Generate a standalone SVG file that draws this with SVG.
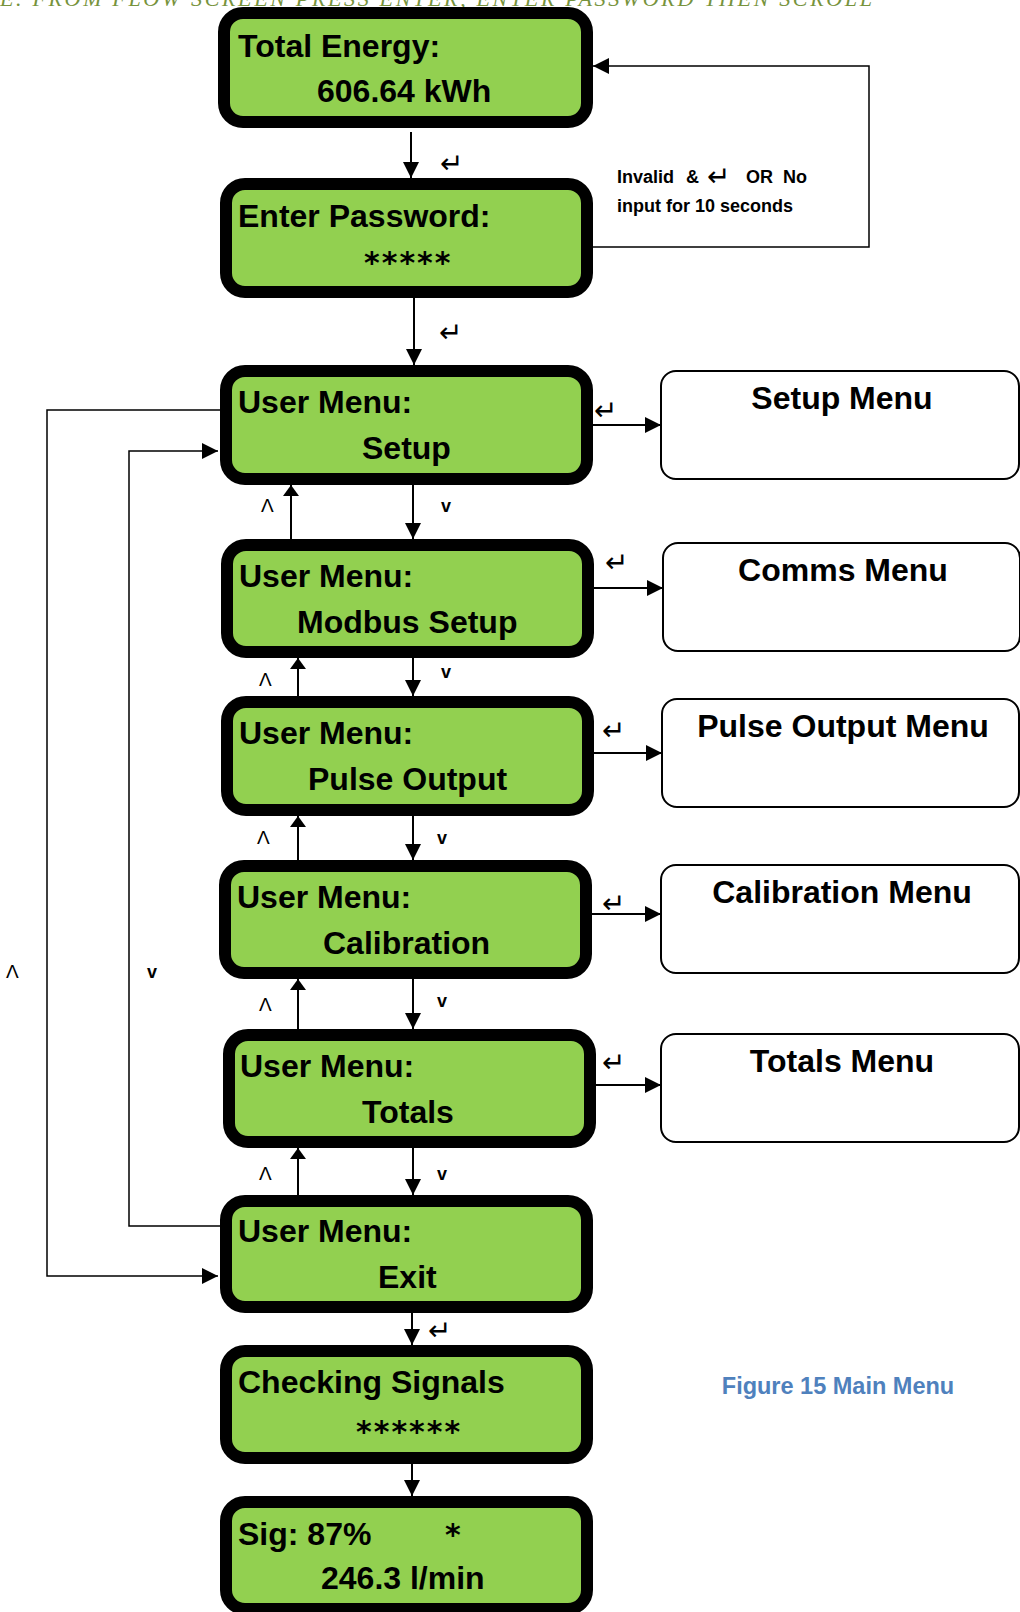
<svg xmlns="http://www.w3.org/2000/svg" width="1020" height="1612" viewBox="0 0 1020 1612">
<style>
.scr{fill:#92D050;stroke:#000;stroke-width:12}
.sub{fill:#fff;stroke:#000;stroke-width:2}
.t{font-family:"Liberation Sans",Arial,sans-serif;font-weight:bold;font-size:32px;fill:#000}
.st{font-family:"DejaVu Sans",sans-serif;font-weight:bold;font-size:30px;fill:#000;letter-spacing:2px}
.mt{font-family:"Liberation Sans",Arial,sans-serif;font-weight:bold;font-size:32px;fill:#000;text-anchor:middle}
.ent{font-family:"DejaVu Sans",sans-serif;font-size:28px;fill:#000}
.up{font-family:"Liberation Sans",Arial,sans-serif;font-size:19px;fill:#000}
.dn{font-family:"Liberation Sans",Arial,sans-serif;font-weight:bold;font-size:18px;fill:#000}
.note{font-family:"Liberation Sans",Arial,sans-serif;font-weight:bold;font-size:18px;fill:#000}
.c{fill:none;stroke:#000;stroke-width:2}
.l{fill:none;stroke:#000;stroke-width:1.5}
</style>
<defs>
<marker id="a" markerUnits="userSpaceOnUse" markerWidth="16" markerHeight="16" refX="16" refY="8" orient="auto"><path d="M0,0 L16,8 L0,16 z" fill="#000"/></marker>
<marker id="u" markerUnits="userSpaceOnUse" markerWidth="11" markerHeight="16" refX="11" refY="8" orient="auto"><path d="M0,0 L11,8 L0,16 z" fill="#000"/></marker>
</defs>

<text x="0" y="6" font-family="Liberation Serif,serif" font-style="italic" font-size="22" fill="#77933C" textLength="872" lengthAdjust="spacing">E.  FROM  FLOW  SCREEN  PRESS  ENTER,  ENTER  PASSWORD  THEN  SCROLL</text>

<g id="connectors">
<line class="c" x1="411" y1="132" x2="411" y2="178" marker-end="url(#a)"/>
<line class="c" x1="414" y1="298" x2="414" y2="365" marker-end="url(#a)"/>
<polyline class="l" points="593,247 869,247 869,66 593,66" marker-end="url(#a)"/>
<line class="c" x1="413" y1="485" x2="413" y2="539" marker-end="url(#a)"/>
<line class="c" x1="291" y1="539" x2="291" y2="485" marker-end="url(#u)"/>
<line class="c" x1="413" y1="658" x2="413" y2="696" marker-end="url(#a)"/>
<line class="c" x1="298" y1="696" x2="298" y2="658" marker-end="url(#u)"/>
<line class="c" x1="413" y1="816" x2="413" y2="860" marker-end="url(#a)"/>
<line class="c" x1="298" y1="860" x2="298" y2="816" marker-end="url(#u)"/>
<line class="c" x1="413" y1="979" x2="413" y2="1029" marker-end="url(#a)"/>
<line class="c" x1="298" y1="1029" x2="298" y2="979" marker-end="url(#u)"/>
<line class="c" x1="413" y1="1148" x2="413" y2="1195" marker-end="url(#a)"/>
<line class="c" x1="298" y1="1195" x2="298" y2="1148" marker-end="url(#u)"/>
<line class="c" x1="412" y1="1313" x2="412" y2="1345" marker-end="url(#a)"/>
<line class="c" x1="412" y1="1464" x2="412" y2="1496" marker-end="url(#a)"/>
<line class="c" x1="593" y1="425" x2="661" y2="425" marker-end="url(#a)"/>
<line class="c" x1="594" y1="588" x2="663" y2="588" marker-end="url(#a)"/>
<line class="c" x1="594" y1="753" x2="662" y2="753" marker-end="url(#a)"/>
<line class="c" x1="592" y1="914" x2="661" y2="914" marker-end="url(#a)"/>
<line class="c" x1="596" y1="1085" x2="661" y2="1085" marker-end="url(#a)"/>
<polyline class="l" points="220,410 47,410 47,1276 218,1276" marker-end="url(#a)"/>
<polyline class="l" points="220,1226 129,1226 129,451 218,451" marker-end="url(#a)"/>
<text class="ent" x="440" y="173">↵</text>
<text class="ent" x="439" y="342">↵</text>
<text class="ent" x="594" y="420">↵</text>
<text class="ent" x="605" y="572">↵</text>
<text class="ent" x="602" y="740">↵</text>
<text class="ent" x="602" y="913">↵</text>
<text class="ent" x="602" y="1072">↵</text>
<text class="ent" x="428" y="1340">↵</text>
<text class="up" x="261" y="512">Λ</text>
<text class="dn" x="441" y="512">v</text>
<text class="up" x="259" y="686">Λ</text>
<text class="dn" x="441" y="678">v</text>
<text class="up" x="257" y="844">Λ</text>
<text class="dn" x="437" y="844">v</text>
<text class="up" x="259" y="1011">Λ</text>
<text class="dn" x="437" y="1007">v</text>
<text class="up" x="259" y="1180">Λ</text>
<text class="dn" x="437" y="1180">v</text>
<text class="up" x="6" y="978">Λ</text>
<text class="dn" x="147" y="978">v</text>
<text class="note" x="617" y="183">Invalid<tspan x="686">&amp;</tspan><tspan x="746">OR</tspan><tspan x="783">No</tspan></text>
<text class="ent" x="707" y="186">↵</text>
<text class="note" x="617" y="212">input for 10 seconds</text>
</g>

<g id="total-energy"><rect class="scr" x="224" y="13" width="363" height="109" rx="19"/><text class="t" x="238" y="57">Total Energy:</text><text class="t" x="317" y="102">606.64 kWh</text></g>
<g id="enter-password"><rect class="scr" x="226" y="184" width="361" height="108" rx="19"/><text class="t" x="238" y="227">Enter Password:</text><text class="st" x="364" y="273">*****</text></g>
<g id="um-setup"><rect class="scr" x="226" y="371" width="361" height="108" rx="19"/><text class="t" x="238" y="413">User Menu:</text><text class="t" x="362" y="459">Setup</text></g>
<g id="um-modbus"><rect class="scr" x="227" y="545" width="361" height="107" rx="19"/><text class="t" x="239" y="587">User Menu:</text><text class="t" x="297" y="633">Modbus Setup</text></g>
<g id="um-pulse"><rect class="scr" x="227" y="702" width="361" height="108" rx="19"/><text class="t" x="239" y="744">User Menu:</text><text class="t" x="308" y="790">Pulse Output</text></g>
<g id="um-calibration"><rect class="scr" x="225" y="866" width="361" height="107" rx="19"/><text class="t" x="237" y="908">User Menu:</text><text class="t" x="323" y="954">Calibration</text></g>
<g id="um-totals"><rect class="scr" x="229" y="1035" width="361" height="107" rx="19"/><text class="t" x="240" y="1077">User Menu:</text><text class="t" x="362" y="1123">Totals</text></g>
<g id="um-exit"><rect class="scr" x="226" y="1201" width="361" height="106" rx="19"/><text class="t" x="238" y="1242">User Menu:</text><text class="t" x="378" y="1288">Exit</text></g>
<g id="checking"><rect class="scr" x="226" y="1351" width="361" height="107" rx="19"/><text class="t" x="238" y="1393">Checking Signals</text><text class="st" x="356" y="1442">******</text></g>
<g id="sig"><rect class="scr" x="226" y="1502" width="361" height="107" rx="19"/><text class="t" x="238" y="1545">Sig: 87%</text><text class="st" x="445" y="1545">*</text><text class="t" x="321" y="1589">246.3 l/min</text></g>

<g id="setup-menu"><rect class="sub" x="661" y="371" width="358" height="108" rx="15"/><text class="mt" x="842" y="409">Setup Menu</text></g>
<g id="comms-menu"><rect class="sub" x="663" y="543" width="357" height="108" rx="15"/><text class="mt" x="843" y="581">Comms Menu</text></g>
<g id="pulse-menu"><rect class="sub" x="662" y="699" width="357" height="108" rx="15"/><text class="mt" x="843" y="737">Pulse Output Menu</text></g>
<g id="calibration-menu"><rect class="sub" x="661" y="865" width="358" height="108" rx="15"/><text class="mt" x="842" y="903">Calibration Menu</text></g>
<g id="totals-menu"><rect class="sub" x="661" y="1034" width="358" height="108" rx="15"/><text class="mt" x="842" y="1072">Totals Menu</text></g>

<text x="838" y="1394" font-family="Liberation Sans,Arial,sans-serif" font-weight="bold" font-size="23.5" fill="#4F81BD" text-anchor="middle">Figure 15 Main Menu</text>
</svg>
